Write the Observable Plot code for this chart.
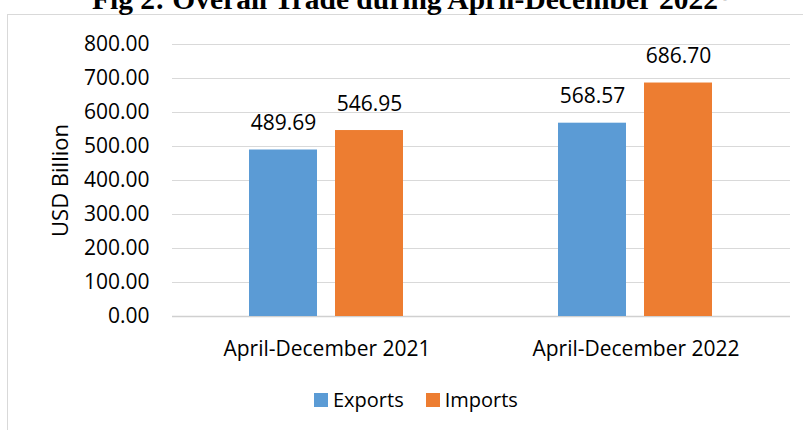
<!DOCTYPE html>
<html>
<head>
<meta charset="utf-8">
<script src="https://cdn.jsdelivr.net/npm/d3@7"></script>
<script src="https://cdn.jsdelivr.net/npm/@observablehq/plot@0.6"></script>
<style>
  body { margin: 0; background: #fff; }
  #wrap { position: relative; width: 803px; height: 430px; overflow: hidden; background: #fff; }
  #frame { position: absolute; left: 7px; top: 14px; width: 900px; height: 600px;
           border-left: 1px solid #d9d9d9; border-top: 1px solid #d9d9d9; box-sizing: border-box; }
  #title { position: absolute; left: 92px; top: -15.2px; white-space: nowrap;
           font-family: "Liberation Serif", "Times New Roman", serif; font-weight: bold;
           font-size: 29.5px; line-height: 29.5px; color: #000; }
  #title sup { font-size: 8px; font-weight: normal; color: #888; vertical-align: 5px; margin-left: 5px; }
  #chart { position: absolute; left: 0; top: 0; }
  #legend { position: absolute; left: 314px; top: 383px; }
  #legend > div, #legend .lg-swatches { font-family: "Open Sans", sans-serif; font-size: 20px; color: #000; margin: 0; }
  #legend .lg-swatch { margin-right: 22px; }
  #legend .lg-swatch > svg { margin-right: 5px; }
</style>
</head>
<body>
<div id="wrap">
  <div id="frame"></div>
  <div id="title">Fig 2: Overall Trade during April-December 2022<sup>*</sup></div>
  <div id="chart"></div>
  <div id="legend"></div>
</div>
<script>
const categories = ["April-December 2021", "April-December 2022"];
const series = ["Exports", "Imports"];
const exportsValues = [489.69, 568.57];
const importsValues = [546.95, 686.70];
const yTicks = [0, 100, 200, 300, 400, 500, 600, 700, 800];
const seriesColors = ["#5B9BD5", "#ED7D31"];
const yLabel = "USD Billion";

const data = categories.flatMap((c, i) => [
  {period: c, flow: series[0], value: exportsValues[i]},
  {period: c, flow: series[1], value: importsValues[i]}
]);

const chart = Plot.plot({
  width: 803,
  height: 380,
  marginTop: 44,
  marginBottom: 64,
  marginLeft: 172,
  marginRight: 13,
  style: {fontFamily: "'Open Sans', sans-serif", fontSize: "21px", color: "#000", background: "transparent", overflow: "visible"},
  fx: {domain: categories, padding: 0, label: null},
  x: {domain: series, paddingInner: 0.207, paddingOuter: 0.88, axis: null, label: null},
  y: {domain: [0, 800], label: null},
  color: {domain: series, range: seriesColors},
  marks: [
    Plot.gridY(yTicks, {stroke: "#d9d9d9", strokeOpacity: 1}),
    Plot.ruleY([0], {stroke: "#d0d0d0", strokeWidth: 1.5}),
    Plot.barY(data, {fx: "period", x: "flow", y: "value", fill: "flow"}),
    Plot.text(data, {fx: "period", x: "flow", y: "value", text: d => d.value.toFixed(2),
      dy: -26.5, fill: "#000", fontSize: 21}),
    Plot.axisY(yTicks, {tickSize: 0, tickPadding: 23, tickFormat: d => d.toFixed(2), fontSize: 21, label: null, fill: "#000"}),
    Plot.axisFx({anchor: "bottom", tickSize: 0, tickPadding: 25, label: null, fontSize: 21, fill: "#000"}),
    Plot.text([{period: categories[0]}], {fx: "period", frameAnchor: "left", dx: -112, rotate: -90,
      textAnchor: "middle", text: () => yLabel, fontSize: 22, fill: "#000"})
  ]
});
document.getElementById("chart").appendChild(chart);
const legend = chart.legend("color", {swatchSize: 14, className: "lg"});
document.getElementById("legend").appendChild(legend);
</script>
</body>
</html>
